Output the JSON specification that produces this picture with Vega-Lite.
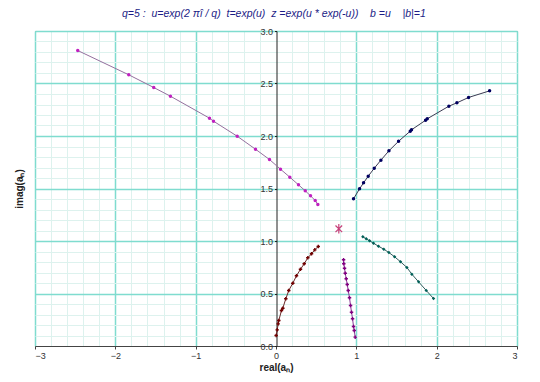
{
  "$schema": "https://vega.github.io/schema/vega-lite/v6.json",
  "width": 482,
  "height": 315,
  "autosize": {"type": "none"},
  "padding": {"left": 35, "top": 31, "right": 23, "bottom": 36},
  "background": "white",
  "config": {
    "font": "Liberation Sans",
    "view": {"stroke": "#9a9a9a", "strokeWidth": 1}
  },
  "title": {
    "text": "q=5 :\u00a0 u=exp(2 \u03c0\u00ee / q)\u00a0 t=exp(u)\u00a0 z =exp(u * exp(-u))\u00a0\u00a0\u00a0 b =u\u00a0\u00a0\u00a0 |b|=1",
    "anchor": "start",
    "dx": 108,
    "offset": 8,
    "fontSize": 10.5,
    "fontStyle": "italic",
    "fontWeight": "normal",
    "color": "#1c1c86"
  },
  "data": {
    "values": [
      {"s": "a", "i": 0, "x": -2.468, "y": 2.814},
      {"s": "a", "i": 1, "x": -1.833, "y": 2.583},
      {"s": "a", "i": 2, "x": -1.522, "y": 2.462},
      {"s": "a", "i": 3, "x": -1.314, "y": 2.379},
      {"s": "a", "i": 4, "x": -0.828, "y": 2.17},
      {"s": "a", "i": 5, "x": -0.778, "y": 2.141},
      {"s": "a", "i": 6, "x": -0.483, "y": 1.998},
      {"s": "a", "i": 7, "x": -0.255, "y": 1.874},
      {"s": "a", "i": 8, "x": -0.081, "y": 1.776},
      {"s": "a", "i": 9, "x": 0.056, "y": 1.684},
      {"s": "a", "i": 10, "x": 0.172, "y": 1.608},
      {"s": "a", "i": 11, "x": 0.28, "y": 1.535},
      {"s": "a", "i": 12, "x": 0.364, "y": 1.478},
      {"s": "a", "i": 13, "x": 0.43, "y": 1.43},
      {"s": "a", "i": 14, "x": 0.488, "y": 1.386},
      {"s": "a", "i": 15, "x": 0.521, "y": 1.348},
      {"s": "b", "i": 0, "x": 0.965, "y": 1.402},
      {"s": "b", "i": 1, "x": 1.04, "y": 1.497},
      {"s": "b", "i": 2, "x": 1.09, "y": 1.554},
      {"s": "b", "i": 3, "x": 1.148, "y": 1.617},
      {"s": "b", "i": 4, "x": 1.223, "y": 1.693},
      {"s": "b", "i": 5, "x": 1.306, "y": 1.77},
      {"s": "b", "i": 6, "x": 1.406, "y": 1.859},
      {"s": "b", "i": 7, "x": 1.526, "y": 1.95},
      {"s": "b", "i": 8, "x": 1.671, "y": 2.046},
      {"s": "b", "i": 9, "x": 1.687, "y": 2.059},
      {"s": "b", "i": 10, "x": 1.862, "y": 2.15},
      {"s": "b", "i": 11, "x": 1.883, "y": 2.164},
      {"s": "b", "i": 12, "x": 2.152, "y": 2.284},
      {"s": "b", "i": 13, "x": 2.252, "y": 2.316},
      {"s": "b", "i": 14, "x": 2.397, "y": 2.367},
      {"s": "b", "i": 15, "x": 2.659, "y": 2.43},
      {"s": "c", "i": 0, "x": 0.002, "y": 0.1},
      {"s": "c", "i": 1, "x": 0.015, "y": 0.154},
      {"s": "c", "i": 2, "x": 0.027, "y": 0.211},
      {"s": "c", "i": 3, "x": 0.035, "y": 0.243},
      {"s": "c", "i": 4, "x": 0.068, "y": 0.338},
      {"s": "c", "i": 5, "x": 0.085, "y": 0.36},
      {"s": "c", "i": 6, "x": 0.122, "y": 0.45},
      {"s": "c", "i": 7, "x": 0.159, "y": 0.529},
      {"s": "c", "i": 8, "x": 0.209, "y": 0.598},
      {"s": "c", "i": 9, "x": 0.255, "y": 0.669},
      {"s": "c", "i": 10, "x": 0.305, "y": 0.731},
      {"s": "c", "i": 11, "x": 0.351, "y": 0.783},
      {"s": "c", "i": 12, "x": 0.396, "y": 0.84},
      {"s": "c", "i": 13, "x": 0.442, "y": 0.878},
      {"s": "c", "i": 14, "x": 0.483, "y": 0.916},
      {"s": "c", "i": 15, "x": 0.526, "y": 0.948},
      {"s": "d", "i": 0, "x": 0.841, "y": 0.821},
      {"s": "d", "i": 1, "x": 0.844, "y": 0.783},
      {"s": "d", "i": 2, "x": 0.853, "y": 0.741},
      {"s": "d", "i": 3, "x": 0.862, "y": 0.693},
      {"s": "d", "i": 4, "x": 0.874, "y": 0.64},
      {"s": "d", "i": 5, "x": 0.887, "y": 0.586},
      {"s": "d", "i": 6, "x": 0.899, "y": 0.529},
      {"s": "d", "i": 7, "x": 0.915, "y": 0.459},
      {"s": "d", "i": 8, "x": 0.928, "y": 0.386},
      {"s": "d", "i": 9, "x": 0.94, "y": 0.322},
      {"s": "d", "i": 10, "x": 0.953, "y": 0.259},
      {"s": "d", "i": 11, "x": 0.965, "y": 0.186},
      {"s": "d", "i": 12, "x": 0.974, "y": 0.148},
      {"s": "d", "i": 13, "x": 0.986, "y": 0.084},
      {"s": "e", "i": 0, "x": 1.081, "y": 1.04},
      {"s": "e", "i": 1, "x": 1.123, "y": 1.021},
      {"s": "e", "i": 2, "x": 1.164, "y": 1.002},
      {"s": "e", "i": 3, "x": 1.214, "y": 0.979},
      {"s": "e", "i": 4, "x": 1.276, "y": 0.95},
      {"s": "e", "i": 5, "x": 1.342, "y": 0.922},
      {"s": "e", "i": 6, "x": 1.405, "y": 0.89},
      {"s": "e", "i": 7, "x": 1.476, "y": 0.85},
      {"s": "e", "i": 8, "x": 1.55, "y": 0.802},
      {"s": "e", "i": 9, "x": 1.629, "y": 0.748},
      {"s": "e", "i": 10, "x": 1.691, "y": 0.684},
      {"s": "e", "i": 11, "x": 1.775, "y": 0.611},
      {"s": "e", "i": 12, "x": 1.87, "y": 0.529},
      {"s": "e", "i": 13, "x": 1.961, "y": 0.452},
      {"s": "star", "i": 0, "x": 0.782, "y": 1.116}
    ]
  },
  "resolve": {"axis": {"x": "independent", "y": "independent"}},
  "layer": [
    {
      "transform": [{"filter": "datum.s != 'star'"}],
      "mark": {"type": "line", "strokeWidth": 1},
      "encoding": {
        "x": {
          "field": "x", "type": "quantitative",
          "scale": {"domain": [-3, 3], "nice": false, "zero": false},
          "axis": {
            "orient": "bottom",
            "values": [-2.8, -2.6, -2.4, -2.2, -1.8, -1.6, -1.4, -1.2, -0.8, -0.6, -0.4, -0.2, 0.2, 0.4, 0.6, 0.8, 1.2, 1.4, 1.6, 1.8, 2.2, 2.4, 2.6, 2.8],
            "grid": true, "gridColor": "#ddf2ee", "gridWidth": 1,
            "domain": false, "ticks": false, "labels": false, "title": null
          }
        },
        "y": {
          "field": "y", "type": "quantitative",
          "scale": {"domain": [0, 3], "nice": false, "zero": false},
          "axis": {
            "orient": "left",
            "values": [0.1, 0.2, 0.3, 0.4, 0.6, 0.7, 0.8, 0.9, 1.1, 1.2, 1.3, 1.4, 1.6, 1.7, 1.8, 1.9, 2.1, 2.2, 2.3, 2.4, 2.6, 2.7, 2.8, 2.9],
            "grid": true, "gridColor": "#ddf2ee", "gridWidth": 1,
            "domain": false, "ticks": false, "labels": false, "title": null
          }
        },
        "detail": {"field": "s"},
        "order": {"field": "i", "type": "quantitative"},
        "color": {
          "field": "s", "type": "nominal", "legend": null,
          "scale": {"domain": ["a", "b", "c", "d", "e"], "range": ["#94709e", "#3a3a52", "#6a2a2a", "#8a3a98", "#2f5c5c"]}
        }
      }
    },
    {
      "transform": [{"filter": "datum.s != 'star'"}],
      "mark": {"type": "point", "filled": true, "size": 12, "opacity": 1},
      "encoding": {
        "x": {
          "field": "x", "type": "quantitative",
          "scale": {"domain": [-3, 3], "nice": false, "zero": false},
          "axis": {
            "orient": "bottom",
            "values": [-3, -2, -1, 0, 1, 2, 3],
            "grid": true, "gridColor": "#7fdccf", "gridWidth": 1.5,
            "gridOpacity": {"condition": {"test": "datum.value == 0", "value": 0}, "value": 1},
            "domain": true, "domainColor": "#444444",
            "ticks": true, "tickColor": "#444444", "tickSize": 3,
            "labelFontSize": 9, "labelColor": "#333333", "labelPadding": 2,
            "title": "real(a\u2099)", "titleFontSize": 10, "titleFontWeight": "bold", "titleColor": "#222222", "titlePadding": 2
          }
        },
        "y": {
          "field": "y", "type": "quantitative",
          "scale": {"domain": [0, 3], "nice": false, "zero": false},
          "axis": {
            "orient": "left",
            "offset": -241.5,
            "values": [0, 0.5, 1, 1.5, 2, 2.5, 3],
            "grid": true, "gridColor": "#7fdccf", "gridWidth": 1.5,
            "gridOpacity": {"condition": {"test": "datum.value == 0", "value": 0}, "value": 1},
            "domain": true, "domainColor": "#222222",
            "ticks": true, "tickColor": "#222222", "tickSize": 2,
            "labelFontSize": 9, "labelColor": "#333333", "labelPadding": 2,
            "title": "imag(a\u2099)", "titleFontSize": 10, "titleFontWeight": "bold", "titleColor": "#222222",
            "titleX": -257.5, "titleY": 157.5, "titleBaseline": "middle", "titleAlign": "center"
          }
        },
        "fill": {
          "field": "s", "type": "nominal", "legend": null,
          "scale": {"domain": ["a", "b", "c", "d", "e"], "range": ["#c020c0", "#000060", "#700000", "#800080", "#006058"]}
        },
        "shape": {
          "field": "s", "type": "nominal", "legend": null,
          "scale": {"domain": ["a", "b", "c", "d", "e"], "range": ["circle", "circle", "cross", "cross", "diamond"]}
        }
      }
    },
    {
      "transform": [{"filter": "datum.s == 'star'"}],
      "mark": {
        "type": "point",
        "shape": "M-0.7,-0.7L0.7,0.7M-0.7,0.7L0.7,-0.7M0,-1L0,1",
        "filled": false, "size": 90, "strokeWidth": 1.2, "color": "#c8407a", "opacity": 1
      },
      "encoding": {
        "x": {"field": "x", "type": "quantitative", "scale": {"domain": [-3, 3], "nice": false, "zero": false}, "axis": null},
        "y": {"field": "y", "type": "quantitative", "scale": {"domain": [0, 3], "nice": false, "zero": false}, "axis": null}
      }
    }
  ]
}
